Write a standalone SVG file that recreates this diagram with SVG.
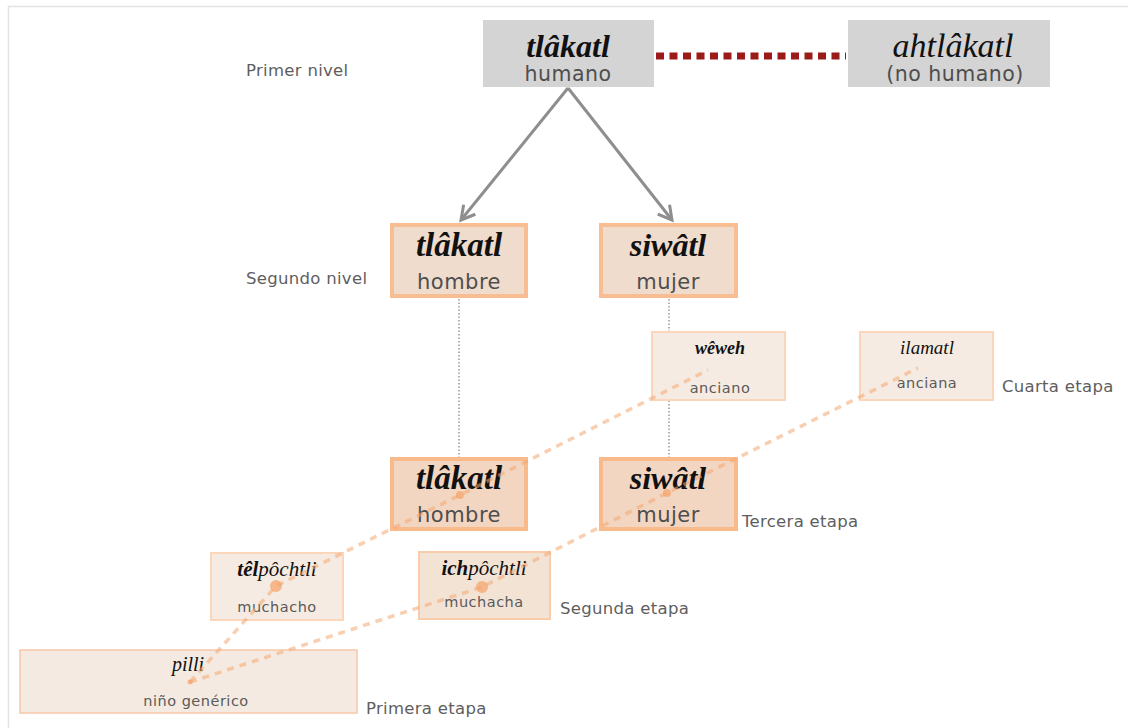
<svg xmlns="http://www.w3.org/2000/svg" width="1128" height="728" viewBox="0 0 1128 728">
  <style>
    .lvl { font-family: "DejaVu Sans", "Liberation Sans", sans-serif; font-size: 16.5px; fill: #5e5e5e; letter-spacing: 0.3px; }
    .nah { font-family: "Liberation Serif", "Times New Roman", serif; font-style: italic; fill: #111; text-anchor: middle; }
    .b { font-weight: bold; }
    .es { font-family: "DejaVu Sans", "Liberation Sans", sans-serif; fill: #4e4e4e; text-anchor: middle; letter-spacing: 0.5px; }
    .sm { font-size: 14.5px; fill: #5a5a5a; }
    .gray { fill: #d4d4d4; }
    .big { fill: #efdccd; stroke: #f8bd93; stroke-width: 4; }
    .big3 { fill: #f2d6c1; stroke: #f8b98b; stroke-width: 4; }
    .small { fill: #f6ebe2; stroke: #fbd6ba; stroke-width: 2; }
    .small2 { fill: #f3e3d5; stroke: #f9cdab; stroke-width: 2; }
    .tree { stroke: #8e8e8e; stroke-width: 3; fill: none; }
    .vdot { stroke: #888; stroke-width: 1.3; stroke-dasharray: 1.5 2; fill: none; }
    .stage { stroke: #f4a871; stroke-width: 3.5; stroke-dasharray: 7 6; fill: none; opacity: 0.55; }
    .dot { fill: #f4a56e; opacity: 0.75; }
  </style>
  <defs>
    <marker id="chev" viewBox="0 0 12 12" refX="10" refY="6" markerWidth="6" markerHeight="6" orient="auto" markerUnits="strokeWidth">
      <path d="M1,1 L10,6 L1,11" fill="none" stroke="#8e8e8e" stroke-width="2"/>
    </marker>
  </defs>

  <rect width="1128" height="728" fill="#ffffff"/>
  <path d="M8.5,728 V6.5 H1128" fill="none" stroke="#e4e4e4" stroke-width="1.5"/>

  <!-- level and stage labels -->
  <g id="labels">
    <text class="lvl" x="246" y="76">Primer nivel</text>
    <text class="lvl" x="246" y="284">Segundo nivel</text>
    <text class="lvl" x="1002" y="392">Cuarta etapa</text>
    <text class="lvl" x="742" y="527">Tercera etapa</text>
    <text class="lvl" x="560" y="614">Segunda etapa</text>
    <text class="lvl" x="366" y="714">Primera etapa</text>
  </g>

  <!-- tree connectors -->
  <g id="connectors">
    <line x1="656" y1="56" x2="846" y2="56" stroke="#9b1a1a" stroke-width="7" stroke-dasharray="8 5.5"/>
    <line class="tree" x1="568" y1="88" x2="461" y2="220" marker-end="url(#chev)"/>
    <line class="tree" x1="568" y1="88" x2="672" y2="220" marker-end="url(#chev)"/>
    <line class="vdot" x1="459" y1="299" x2="459" y2="457"/>
    <line class="vdot" x1="669" y1="299" x2="669" y2="457"/>
  </g>

  <!-- first level -->
  <g id="n-tlakatl-top">
    <rect class="gray" x="483" y="20" width="171" height="67"/>
    <text class="nah b" x="568" y="57" font-size="32">tlâkatl</text>
    <text class="es" x="568" y="81" font-size="20.5">humano</text>
  </g>
  <g id="n-ahtlakatl">
    <rect class="gray" x="848" y="20" width="202" height="67"/>
    <text class="nah" x="953" y="57" font-size="34">ahtlâkatl</text>
    <text class="es" x="955" y="81" font-size="20.5">(no humano)</text>
  </g>

  <!-- second level -->
  <g id="n-tlakatl-2">
    <rect class="big" x="392" y="225" width="134" height="71"/>
    <text class="nah b" x="459" y="256" font-size="33">tlâkatl</text>
    <text class="es" x="459" y="289" font-size="21">hombre</text>
  </g>
  <g id="n-siwatl-2">
    <rect class="big" x="601" y="225" width="135" height="71"/>
    <text class="nah b" x="668" y="256" font-size="32">siwâtl</text>
    <text class="es" x="668" y="289" font-size="21">mujer</text>
  </g>

  <!-- fourth stage -->
  <g id="n-weweh">
    <rect class="small" x="652" y="332" width="133" height="68"/>
    <text class="nah b" x="720" y="354" font-size="18">wêweh</text>
    <text class="es sm" x="720" y="393">anciano</text>
  </g>
  <g id="n-ilamatl">
    <rect class="small" x="860" y="332" width="133" height="68"/>
    <text class="nah" x="927" y="354" font-size="19">ilamatl</text>
    <text class="es sm" x="927" y="388">anciana</text>
  </g>

  <!-- third stage -->
  <g id="n-tlakatl-3">
    <rect class="big3" x="392" y="459" width="134" height="70"/>
    <text class="nah b" x="459" y="489" font-size="33">tlâkatl</text>
    <text class="es" x="459" y="522" font-size="21">hombre</text>
  </g>
  <g id="n-siwatl-3">
    <rect class="big3" x="601" y="459" width="135" height="70"/>
    <text class="nah b" x="668" y="489" font-size="32">siwâtl</text>
    <text class="es" x="668" y="522" font-size="21">mujer</text>
  </g>

  <!-- second stage -->
  <g id="n-telpochtli">
    <rect class="small" x="211" y="553" width="132" height="67"/>
    <text class="nah" x="277" y="576" font-size="21"><tspan class="b">têl</tspan>pôchtli</text>
    <text class="es sm" x="277" y="612">muchacho</text>
  </g>
  <g id="n-ichpochtli">
    <rect class="small2" x="419" y="552" width="131" height="67"/>
    <text class="nah" x="484" y="575" font-size="21"><tspan class="b">ich</tspan>pôchtli</text>
    <text class="es sm" x="484" y="607">muchacha</text>
  </g>

  <!-- first stage -->
  <g id="n-pilli">
    <rect x="20" y="650" width="337" height="63" fill="#f5eae1" stroke="#f6c7a8" stroke-width="1.5"/>
    <text class="nah" x="188" y="671" font-size="20">pilli</text>
    <text class="es sm" x="196" y="706">niño genérico</text>
  </g>

  <!-- growth stages -->
  <g id="stage-links">
    <polyline class="stage" points="190,682 276,586 460,495 708,370"/>
    <polyline class="stage" points="190,682 482,587 667,493 918,368"/>
    <circle class="dot" cx="276" cy="586" r="6"/>
    <circle class="dot" cx="482" cy="587" r="6"/>
    <circle class="dot" cx="460" cy="495" r="4" opacity="0.4"/>
    <circle class="dot" cx="667" cy="493" r="4" opacity="0.4"/>
    <circle class="dot" cx="190" cy="682" r="2.5"/>
  </g>
</svg>
